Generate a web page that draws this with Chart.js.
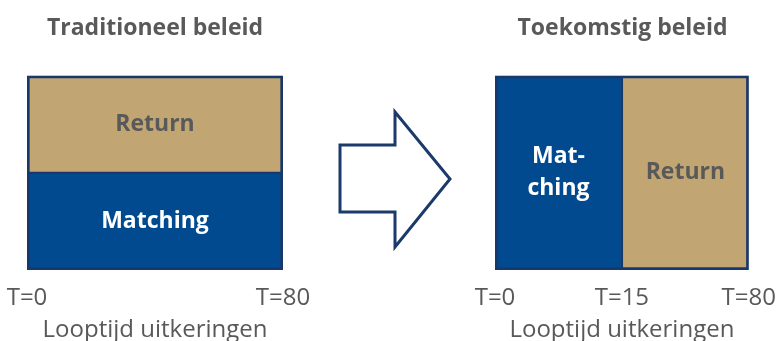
<!DOCTYPE html>
<html>
<head>
<meta charset="utf-8">
<script src="https://cdn.jsdelivr.net/npm/chart.js@4"></script>
<style>
    html, body { margin: 0; padding: 0; background: #fff; }
    body { width: 776px; height: 341px; position: relative; overflow: hidden; }
    .paneel { position: absolute; top: 0; height: 341px; }
    #links { left: 0; width: 320px; }
    #rechts { left: 456px; width: 320px; }
    #pijl { position: absolute; left: 0; top: 0; }
</style>
</head>
<body>
<div class="paneel" id="links"><canvas id="chartLinks"></canvas></div>
<svg id="pijl" width="776" height="341">
    <polygon points="340,145 395,145 395,112 450,179 395,247 395,212 340,212"
             fill="#fff" stroke="#1b3a6b" stroke-width="3" stroke-linejoin="miter"/>
</svg>
<div class="paneel" id="rechts"><canvas id="chartRechts"></canvas></div>

<script>
// Titels van de panelen
const titels = ["Traditioneel beleid", "Toekomstig beleid"];
const asTitel = "Looptijd uitkeringen";

// Tijdstippen op de as (jaren)
const tijdLinks = [0, 80];
const tijdRechts = [0, 15, 80];

// Traditioneel: return en matching over de hele looptijd
const tradBlokken = ["Return", "Matching"];
const tradPeriode = [[0, 80], [0, 80]];

// Toekomstig: matching tot T=15, daarna return
const toekBlokken = ["Matching", "Return"];
const toekPeriode = [[0, 15], [15, 80]];
const toekTekst = [["Mat-", "ching"], ["Return"]];

// Kleuren
const BLAUW = "#024a8f";
const ZAND = "#c1a674";
const RAND = "#19386a";
const GRIJS = "#595959";
const vulKleur = { Return: ZAND, Matching: BLAUW };
const tekstKleur = { Return: GRIJS, Matching: "#ffffff" };
const FONT = "'Open Sans', sans-serif";

const tLabel = t => "T=" + t;

// Tekst in de blokken
const blokTekst = {
    id: "blokTekst",
    afterDatasetsDraw(chart) {
        const ctx = chart.ctx;
        ctx.save();
        ctx.font = "bold 23px " + FONT;
        ctx.textAlign = "center";
        ctx.textBaseline = "middle";
        chart.data.datasets.forEach((ds, di) => {
            chart.getDatasetMeta(di).data.forEach((bar, i) => {
                const regels = ds.tekst[i];
                const p = bar.getCenterPoint();
                ctx.fillStyle = ds.tekstKleur[i];
                const lh = 32;
                regels.forEach((r, k) => {
                    ctx.fillText(r, p.x, p.y + (k - (regels.length - 1) / 2) * lh);
                });
            });
        });
        ctx.restore();
    }
};

function randen(boven, onder, links, rechts) {
    return { top: boven, bottom: onder, left: links, right: rechts };
}

function basisOpties(titel, tijd, padL, padR) {
    return {
        indexAxis: "y",
        responsive: true,
        maintainAspectRatio: false,
        animation: false,
        layout: { padding: { left: padL, right: padR, top: 0, bottom: 0 } },
        plugins: {
            legend: { display: false },
            tooltip: { enabled: false },
            title: {
                display: true,
                text: titel,
                color: GRIJS,
                font: { family: FONT, size: 23, weight: "bold", lineHeight: 1.2 },
                padding: { top: 15, bottom: 33 }
            }
        },
        scales: {
            x: {
                type: "category",
                labels: tijd.map(tLabel),
                offset: false,
                grid: { display: false, drawTicks: false },
                border: { display: false },
                ticks: {
                    color: GRIJS,
                    autoSkip: false,
                    maxRotation: 0,
                    padding: 0,
                    // ruime regelhoogte zet de labels lager onder de blokken
                    font: { family: FONT, size: 24, lineHeight: "56px" }
                },
                title: {
                    display: true,
                    text: asTitel,
                    color: GRIJS,
                    font: { family: FONT, size: 24, lineHeight: "8px" },
                    padding: { top: 0, bottom: 7 }
                }
            },
            y: { display: false }
        }
    };
}

// Traditioneel beleid
new Chart(document.getElementById("chartLinks"), {
    type: "bar",
    data: {
        labels: tradBlokken,
        datasets: [{
            data: tradPeriode.map(p => p.map(tLabel)),
            backgroundColor: tradBlokken.map(b => vulKleur[b]),
            borderColor: RAND,
            borderWidth: [randen(3, 1.5, 3, 3), randen(1.5, 3, 3, 3)],
            borderSkipped: false,
            barPercentage: 1,
            categoryPercentage: 1,
            tekst: tradBlokken.map(b => [b]),
            tekstKleur: tradBlokken.map(b => tekstKleur[b])
        }]
    },
    options: basisOpties(titels[0], tijdLinks, 27, 37),
    plugins: [blokTekst]
});

// Toekomstig beleid
new Chart(document.getElementById("chartRechts"), {
    type: "bar",
    data: {
        labels: [""],
        datasets: toekBlokken.map((b, i) => ({
            data: [toekPeriode[i].map(tLabel)],
            backgroundColor: vulKleur[b],
            borderColor: RAND,
            borderWidth: i === 0 ? randen(3, 3, 3, 1.5) : randen(3, 3, 1.5, 3),
            borderSkipped: false,
            grouped: false,
            barPercentage: 1,
            categoryPercentage: 1,
            tekst: [toekTekst[i]],
            tekstKleur: [tekstKleur[b]]
        }))
    },
    options: basisOpties(titels[1], tijdRechts, 39, 26),
    plugins: [blokTekst]
});
</script>
</body>
</html>
